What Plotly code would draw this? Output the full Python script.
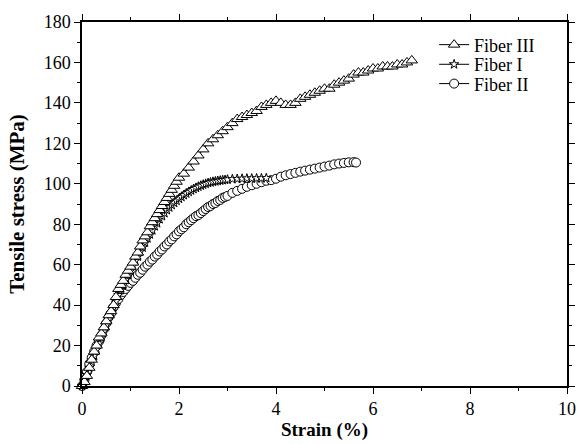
import plotly.graph_objects as go

# Fiber III (triangles)
f3_x = [0.00, 0.05, 0.10, 0.15, 0.20, 0.25, 0.30, 0.35, 0.40, 0.45, 0.50, 0.55, 0.60, 0.65, 0.70,
        0.75, 0.80, 0.85, 0.90, 0.95, 1.00, 1.05, 1.10, 1.15, 1.20, 1.25, 1.30, 1.35, 1.40, 1.45,
        1.50, 1.55, 1.60, 1.65, 1.70, 1.75, 1.80, 1.85, 1.90, 1.95, 2.00, 2.10, 2.20, 2.30, 2.40,
        2.50, 2.60, 2.70, 2.80, 2.90, 3.00, 3.10, 3.20, 3.30, 3.40, 3.50, 3.60, 3.70, 3.80, 3.90,
        4.00, 4.10, 4.20, 4.30, 4.40, 4.50, 4.60, 4.70, 4.80, 4.90, 5.00, 5.10, 5.20, 5.30, 5.40,
        5.50, 5.60, 5.70, 5.80, 5.90, 6.00, 6.10, 6.20, 6.30, 6.40, 6.50, 6.60, 6.70, 6.80]
f3_y = [0, 2, 5, 9, 13, 17, 20, 24, 26, 29, 32, 35, 37, 40, 44,
        48, 50, 52, 55, 57, 59, 61, 64, 66, 69, 72, 74, 76, 79, 81,
        83, 85, 87, 89, 91, 93, 95, 97, 99, 101, 103, 105, 108, 111, 114,
        117, 120, 122, 124, 126, 128, 130, 132, 133, 134, 135, 136, 138, 139, 140,
        141, 140, 139, 139, 140, 142, 143, 144, 145, 146, 147, 147, 149, 150, 151,
        152, 154, 155, 155, 156, 157, 157, 158, 158, 158, 159, 159, 160, 161]

# Fiber I (stars)
f1_x = [0.00, 0.05, 0.10, 0.15, 0.20, 0.25, 0.30, 0.35, 0.40, 0.45, 0.50, 0.55, 0.60, 0.65, 0.70,
        0.75, 0.80, 0.85, 0.90, 0.95, 1.00, 1.05, 1.10, 1.15, 1.20, 1.25, 1.30, 1.35, 1.40, 1.45,
        1.50, 1.55, 1.60, 1.65, 1.70, 1.75, 1.80, 1.85, 1.90, 1.95, 2.00, 2.05, 2.10, 2.15, 2.20,
        2.25, 2.30, 2.35, 2.40, 2.45, 2.50, 2.55, 2.60, 2.65, 2.70, 2.75, 2.80, 2.85, 2.90, 2.95,
        3.00, 3.10, 3.20, 3.30, 3.40, 3.50, 3.60, 3.70, 3.80]
f1_y = [0, 2.5, 5.5, 9, 12, 15, 18, 21, 24, 27, 30, 33, 36, 39, 42,
        45, 47.5, 50, 52.5, 55, 57, 59.5, 62, 64, 66.5, 68.5, 71, 73, 75, 77,
        79, 80.5, 82.5, 84, 85.5, 87, 88.3, 89.5, 90.6, 91.6, 92.6, 93.5, 94.4, 95.2, 96,
        96.7, 97.4, 98, 98.6, 99.1, 99.6, 100, 100.4, 100.7, 101, 101.2, 101.4, 101.6, 101.8, 101.9,
        102.1, 102.3, 102.4, 102.5, 102.6, 102.6, 102.7, 102.7, 102.8]

# Fiber II (circles)
f2_x = [-0.15, 0.00, 0.05, 0.10, 0.15, 0.20, 0.25, 0.30, 0.35, 0.40, 0.45, 0.50, 0.55, 0.60, 0.65,
        0.70, 0.75, 0.80, 0.85, 0.90, 0.95, 1.00, 1.05, 1.10, 1.15, 1.20, 1.25, 1.30, 1.35, 1.40,
        1.45, 1.50, 1.55, 1.60, 1.65, 1.70, 1.75, 1.80, 1.85, 1.90, 1.95, 2.00, 2.05, 2.10, 2.15,
        2.20, 2.25, 2.30, 2.35, 2.40, 2.45, 2.50, 2.55, 2.60, 2.65, 2.70, 2.75, 2.80, 2.85, 2.90,
        2.95, 3.00, 3.10, 3.20, 3.30, 3.40, 3.50, 3.60, 3.70, 3.80, 3.90, 4.00, 4.10, 4.20, 4.30,
        4.40, 4.50, 4.60, 4.70, 4.80, 4.90, 5.00, 5.10, 5.20, 5.30, 5.40, 5.50, 5.60, 5.65]
f2_y = [0.5, 0, 3, 7, 11, 14, 17, 20, 22, 25, 28, 31, 34, 36, 39,
        41, 43, 45, 46.5, 48, 49.5, 51, 52, 53.5, 55, 56, 57.5, 59, 60, 61.5,
        62.5, 64, 65, 66.5, 67.5, 69, 70, 71.5, 72.5, 74, 75, 76.5, 77.5, 78.5, 80,
        81, 82, 83, 84, 84.5, 85.5, 86.5, 87.5, 88.5, 89, 90, 90.5, 91.5, 92, 93,
        93.5, 94, 95.5, 96.5, 97.5, 98.5, 99.3, 100, 100.8, 101.5, 101.8, 102.5, 103.5, 104.2, 104.8,
        105.4, 106, 106.5, 107, 107.5, 108, 108.5, 109, 109.6, 110, 110.3, 110.6, 110.7, 110.5]

FONT = "Liberation Serif, Times New Roman, serif"

fig = go.Figure()
fig.add_trace(go.Scatter(
    x=f2_x, y=f2_y, name="Fiber II", mode="lines+markers", legend="legend3", cliponaxis=False,
    line=dict(color="black", width=1),
    marker=dict(symbol="circle", size=9, color="white", line=dict(color="black", width=1))))
fig.add_trace(go.Scatter(
    x=f1_x, y=f1_y, name="Fiber I", mode="lines+markers", legend="legend2", cliponaxis=False,
    line=dict(color="black", width=1),
    marker=dict(symbol="star", size=7, color="white", line=dict(color="black", width=1))))
fig.add_trace(go.Scatter(
    x=f3_x, y=f3_y, name="Fiber III", mode="lines+markers", legend="legend", cliponaxis=False,
    line=dict(color="black", width=1),
    marker=dict(symbol="triangle-up", size=10, color="white", line=dict(color="black", width=1))))

axis_common = dict(
    showgrid=False, zeroline=False, showline=True, linecolor="black", linewidth=1.5,
    mirror="ticks", ticks="outside", ticklen=6, tickwidth=1.2, tickcolor="black",
    tickfont=dict(family=FONT, size=18, color="black"), automargin=False,
)

fig.update_xaxes(
    range=[0, 10], tickmode="array", tickvals=[0, 2, 4, 6, 8, 10],
    minor=dict(tickvals=[1, 3, 5, 7, 9], ticks="outside", ticklen=3, tickcolor="black"),
    title=dict(text="<b>Strain (%)</b>", font=dict(family=FONT, size=19, color="black"), standoff=4),
    **axis_common)
fig.update_yaxes(
    range=[0, 180], tickmode="array", tickvals=list(range(0, 181, 20)),
    minor=dict(tickvals=list(range(10, 180, 20)), ticks="outside", ticklen=3, tickcolor="black"),
    title=dict(text="<b>Tensile stress (MPa)</b>", font=dict(family=FONT, size=21, color="black"), standoff=13),
    **axis_common)

leg_common = dict(x=0.726, xanchor="left", yanchor="middle",
                  font=dict(family=FONT, size=18, color="black"),
                  bgcolor="rgba(0,0,0,0)", itemwidth=30)

fig.update_layout(
    width=577, height=444,
    margin=dict(l=82, r=10, t=22, b=58),
    paper_bgcolor="white", plot_bgcolor="white",
    showlegend=True,
    legend=dict(y=0.937, **leg_common),
    legend2=dict(y=0.883, **leg_common),
    legend3=dict(y=0.830, **leg_common),
)

fig.write_html("out.html")
